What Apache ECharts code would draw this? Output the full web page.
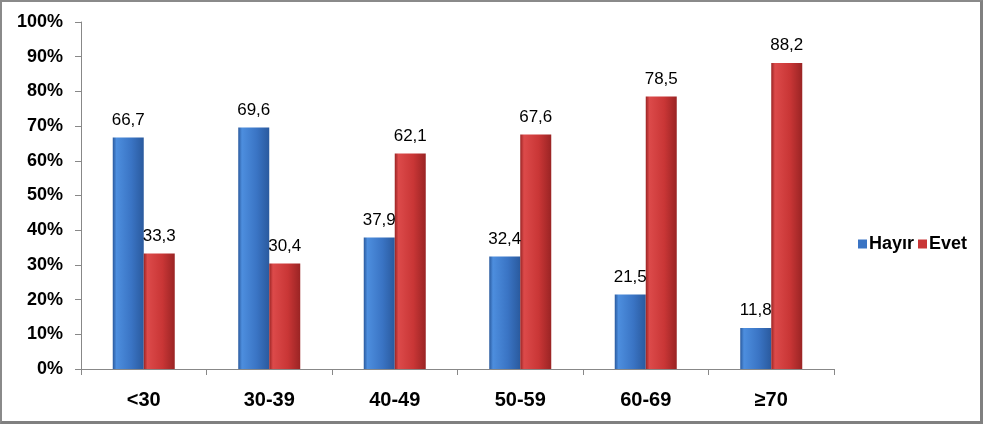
<!DOCTYPE html>
<html>
<head>
<meta charset="utf-8">
<script src="https://cdn.jsdelivr.net/npm/echarts@6/dist/echarts.min.js"></script>
<style>
html,body{margin:0;padding:0;background:#fff;}
#frame{position:absolute;left:0;top:0;width:983px;height:424px;box-sizing:border-box;border-top:2px solid #8a8a8a;border-left:2px solid #8a8a8a;border-right:3px solid #808080;border-bottom:3px solid #808080;}
#chart{position:absolute;left:0;top:0;width:983px;height:424px;}
</style>
</head>
<body>
<div id="chart"></div>
<div id="frame"></div>
<script>
var categories = ['<30', '30-39', '40-49', '50-59', '60-69', '\u226570'];
var hayir = [66.7, 69.6, 37.9, 32.4, 21.5, 11.8];
var evet = [33.3, 30.4, 62.1, 67.6, 78.5, 88.2];
var seriesNames = ['Hay\u0131r', 'Evet'];

var chart = echarts.init(document.getElementById('chart'), null, {renderer: 'canvas'});
function grad(light, mid, dark) {
  return new echarts.graphic.LinearGradient(0, 0, 1, 0, [
    {offset: 0, color: dark},
    {offset: 0.12, color: light},
    {offset: 0.6, color: mid},
    {offset: 1, color: dark}
  ]);
}
var blue = grad('#4d8ede', '#3a74c4', '#2a5a9e');
var red = grad('#dc4a4a', '#c93636', '#9a2424');
var FONT = 'Liberation Sans, Arial, sans-serif';
function fmt(p) { return p.value.toFixed(1).replace('.', ','); }
var labelStyle = {show: true, position: 'top', distance: 9, color: '#000', fontSize: 17, fontFamily: FONT, formatter: fmt};
chart.setOption({
  animation: false,
  backgroundColor: '#fff',
  grid: {left: 81, right: 149, top: 22, bottom: 55, containLabel: false},
  legend: {
    left: 853, top: 230, itemWidth: 9, itemHeight: 9, itemGap: 4,
    icon: 'rect',
    textStyle: {fontSize: 18, fontWeight: 'bold', color: '#000', fontFamily: FONT, padding: [0, 0, 0, -3]},
    data: [{name: seriesNames[0], itemStyle: {color: '#3a74c4'}}, {name: seriesNames[1], itemStyle: {color: '#c93636'}}]
  },
  xAxis: {
    type: 'category', data: categories,
    axisLine: {lineStyle: {color: '#888', width: 1}},
    axisTick: {show: true, length: 6, lineStyle: {color: '#888'}},
    axisLabel: {margin: 21, fontSize: 20, fontWeight: 'bold', color: '#000', fontFamily: FONT}
  },
  yAxis: {
    type: 'value', min: 0, max: 100, interval: 10,
    axisLine: {show: true, lineStyle: {color: '#888', width: 1}},
    axisTick: {show: true, length: 6, lineStyle: {color: '#888'}},
    splitLine: {show: false},
    axisLabel: {margin: 18, fontSize: 18, fontWeight: 'bold', color: '#000', fontFamily: FONT, formatter: '{value}%'}
  },
  series: [
    {name: seriesNames[0], type: 'bar', data: hayir, barWidth: 31, barGap: '0%', itemStyle: {color: blue}, label: labelStyle},
    {name: seriesNames[1], type: 'bar', data: evet, barWidth: 31, barGap: '0%', itemStyle: {color: red}, label: labelStyle}
  ]
});
</script>
</body>
</html>
